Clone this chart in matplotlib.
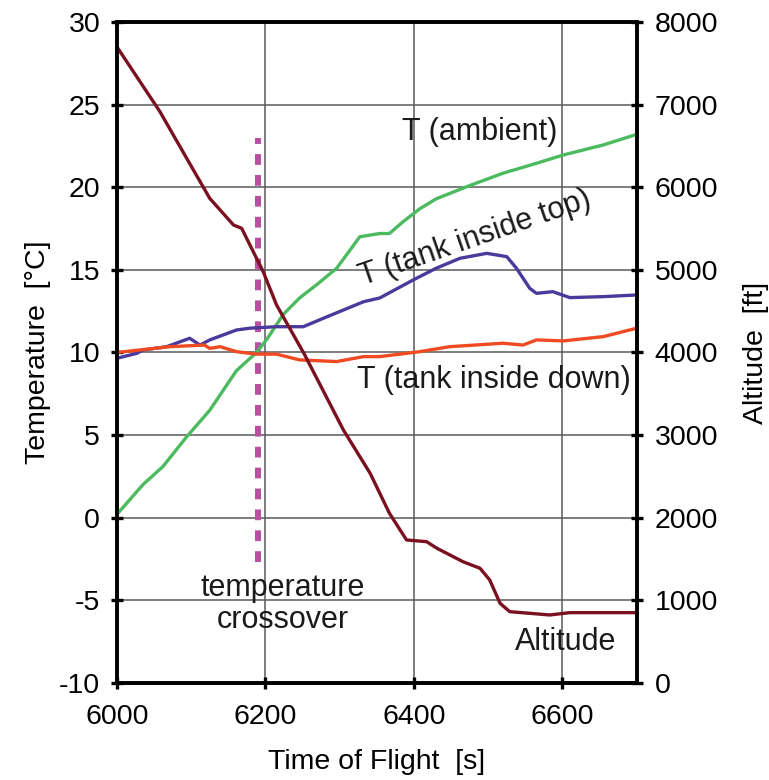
import matplotlib
matplotlib.use('Agg')
import matplotlib.pyplot as plt

plt.rcParams['font.family'] = ['Liberation Sans', 'DejaVu Sans']
plt.rcParams['axes.unicode_minus'] = False

# altitude track [s], [ft]
alt_t = [6000, 6058, 6094, 6125, 6157, 6168, 6197, 6215, 6253, 6305, 6341,
         6367, 6390, 6417, 6431, 6466, 6489, 6502, 6516, 6529, 6583, 6610, 6700]
alt_ft = [7700, 6914, 6350, 5866, 5543, 5503, 4978, 4575, 3970, 3062, 2538,
          2054, 1731, 1710, 1630, 1468, 1388, 1247, 964, 863, 823, 851, 851]

# ambient temperature [s], [°C]
amb_t = [6000, 6035, 6062, 6094, 6125, 6161, 6188, 6202, 6224, 6246, 6269,
         6296, 6327, 6354, 6367, 6385, 6408, 6430, 6475, 6520, 6565, 6601,
         6655, 6700]
amb_c = [0.2, 2.0, 3.1, 4.9, 6.5, 8.9, 10.0, 10.8, 12.3, 13.3, 14.1,
         15.1, 17.0, 17.2, 17.2, 17.9, 18.7, 19.3, 20.1, 20.85, 21.45, 21.95,
         22.56, 23.2]

# tank inside top
top_t = [6000, 6027, 6035, 6067, 6098, 6112, 6125, 6161, 6179, 6215, 6251,
         6278, 6305, 6332, 6354, 6399, 6430, 6462, 6498, 6525, 6538, 6556,
         6565, 6587, 6610, 6655, 6700]
top_c = [9.65, 9.95, 10.15, 10.35, 10.86, 10.45, 10.76, 11.36, 11.47, 11.56, 11.56,
         12.07, 12.57, 13.07, 13.3, 14.39, 15.1, 15.7, 16.0, 15.8, 15.1, 13.88,
         13.58, 13.68, 13.32, 13.38, 13.48]

# tank inside down
down_t = [6000, 6071, 6118, 6125, 6139, 6161, 6188, 6215, 6246, 6296, 6332,
          6354, 6408, 6448, 6520, 6547, 6565, 6601, 6655, 6700]
down_c = [10.0, 10.35, 10.45, 10.25, 10.35, 10.05, 9.9, 9.9, 9.55, 9.45, 9.75,
          9.75, 10.05, 10.35, 10.56, 10.45, 10.76, 10.7, 10.96, 11.47]

crossover_t = 6190
crossover_range = [-2.7, 23.0]

fig = plt.figure(figsize=(7.69, 7.80), dpi=100)
ax = fig.add_axes([0.152, 0.1244, 0.676, 0.8474])
ax2 = ax.twinx()

ax.plot(amb_t, amb_c, color='#4cbb5f', lw=2.4, zorder=3)
ax.plot(top_t, top_c, color='#4b3a9c', lw=2.4, zorder=3)
ax.plot(down_t, down_c, color='#f04a22', lw=2.4, zorder=3)
ax.plot([crossover_t, crossover_t], crossover_range, color='#b84fa0', lw=4.3,
        dashes=(1.8, 1.7), zorder=2)
ax2.plot(alt_t, alt_ft, color='#7b1020', lw=2.4)

ax.set_xlim(6000, 6700)
ax.set_ylim(-10, 30)
ax2.set_ylim(0, 8000)
ax.set_xticks([6000, 6200, 6400, 6600])
ax.set_yticks(range(-10, 31, 5))
ax2.set_yticks(range(0, 8001, 1000))

ax.grid(True, color='#5a5a5a', lw=1.1)
ax.set_axisbelow(True)

for a in (ax, ax2):
    for s in a.spines.values():
        s.set_linewidth(2.6)
    a.tick_params(direction='inout', length=8, width=2.4, labelsize=20.5)
ax.tick_params(axis='x', pad=11)
ax.tick_params(axis='y', pad=8)
ax2.tick_params(axis='y', pad=9)

ax.set_xlabel('Time of Flight  [s]', fontsize=20.5, labelpad=14)
ax.set_ylabel('Temperature  [°C]', fontsize=20.5, labelpad=6)
ax2.set_ylabel('Altitude  [ft]', fontsize=20.5, labelpad=18)

txt = dict(fontsize=22, color='#1a1a1a', ha='center', va='center')
ax.text(6489, 23.35, 'T (ambient)', **txt)
ax.text(6483, 16.9, 'T (tank inside top)', rotation=19, **txt)
ax.text(6507, 8.33, 'T (tank inside down)', **txt)
ax.text(6223, -5.2, 'temperature\ncrossover', linespacing=1.1, **txt)
ax.text(6604, -7.5, 'Altitude', **txt)

fig.savefig('out.png', dpi=100)
